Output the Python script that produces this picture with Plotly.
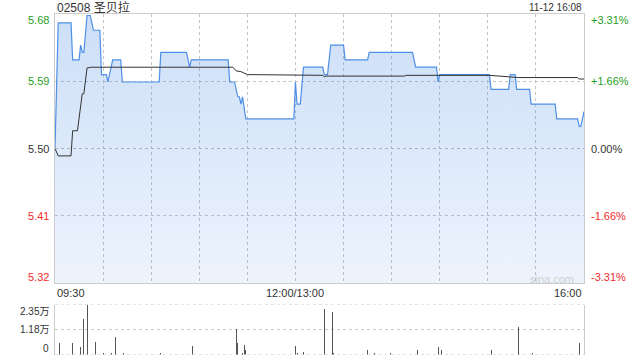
import plotly.graph_objects as go

# ---------------- data ----------------
prev_close = 5.50
price_min = [0, 2, 10, 11, 15, 16, 17, 18, 20, 22, 24, 28, 29, 32, 33, 34, 36, 41, 42, 65, 66,
             82, 84, 85, 108, 109, 112, 114, 115, 116, 117, 119, 149, 150, 151, 153, 155, 167,
             168, 170, 172, 180, 181, 195, 196, 223, 225, 238, 239, 240, 271, 272, 283, 284,
             287, 288, 296, 297, 312, 313, 326, 327, 328, 330]
price_val = [5.50, 5.67, 5.67, 5.62, 5.62, 5.64, 5.63, 5.63, 5.68, 5.68, 5.66, 5.66, 5.60, 5.60,
             5.59, 5.60, 5.62, 5.62, 5.59, 5.59, 5.63, 5.63, 5.61, 5.62, 5.62, 5.59, 5.59, 5.57,
             5.57, 5.56, 5.57, 5.54, 5.54, 5.59, 5.56, 5.56, 5.61, 5.61, 5.60, 5.60, 5.64, 5.64,
             5.62, 5.62, 5.63, 5.63, 5.61, 5.61, 5.59, 5.60, 5.60, 5.58, 5.58, 5.60, 5.60, 5.58,
             5.58, 5.56, 5.56, 5.54, 5.54, 5.53, 5.53, 5.55]

avg_min = [0, 2, 10, 11, 14, 17, 18, 20, 23, 111, 113, 116, 120, 150, 151, 167, 168, 169, 218,
           219, 271, 288, 289, 326, 327, 330]
avg_val = [5.500, 5.490, 5.490, 5.524, 5.524, 5.574, 5.574, 5.609, 5.610, 5.610, 5.605, 5.604,
           5.600, 5.600, 5.599, 5.599, 5.597, 5.598, 5.598, 5.599, 5.599, 5.597, 5.596, 5.596,
           5.594, 5.594]

vol_min = [3, 11, 16, 18, 20, 25, 30, 35, 38, 43, 66, 86, 113, 114, 117, 118, 119, 150, 151,
           155, 168, 173, 174, 195, 199, 209, 226, 239, 241, 272, 289, 298, 327]
vol_val = [5600, 5200, 3300, 16500, 23500, 6100, 900, 900, 8000, 700, 700, 4000, 12200, 5600,
           900, 4700, 2300, 4200, 900, 1400, 21600, 20200, 900, 1900, 900, 900, 1900, 3300,
           1900, 1900, 12700, 900, 5600]

price_ticks = [5.682, 5.591, 5.500, 5.409, 5.318]
price_labels = ["5.68", "5.59", "5.50", "5.41", "5.32"]
pct_labels = ["+3.31%", "+1.66%", "0.00%", "-1.66%", "-3.31%"]
tick_colors = ["#1f9e1f", "#1f9e1f", "#333333", "#ee2b2b", "#ee2b2b"]
label_shift = [-6, 0, 0, 0, 6]

vol_ticks = [23500, 11750, 0]
vol_labels = ["2.35万", "1.18万", "0"]
vol_shift = [-7, 0, 6]

time_ticks = [0, 150, 330]
time_labels = ["09:30", "12:00/13:00", "16:00"]
time_anchor = ["left", "center", "right"]

title_text = "02508 圣贝拉"
stamp_text = "11-12 16:08"

# ---------------- layout geometry ----------------
W, H = 640, 360
XL, XR = 55 / W, 584 / W
MAIN = [1 - 283 / H, 1 - 14 / H]
VOL = [1 - 354.5 / H, 1 - 304.5 / H]
FONT = "Arial, Liberation Sans, Noto Sans CJK SC, sans-serif"

fig = go.Figure()

fig.add_trace(go.Scatter(
    x=price_min, y=price_val, mode="lines",
    line=dict(color="#4f8fe6", width=1.2),
    fill="tozeroy",
    fillgradient=dict(type="vertical", start=5.318, stop=5.682,
                      colorscale=[[0, "rgba(79,143,230,0.10)"], [1, "rgba(79,143,230,0.29)"]]),
    hoverinfo="skip", xaxis="x", yaxis="y"))

fig.add_trace(go.Scatter(
    x=avg_min, y=avg_val, mode="lines",
    line=dict(color="#333333", width=1),
    hoverinfo="skip", xaxis="x", yaxis="y"))

fig.add_trace(go.Bar(
    x=vol_min, y=vol_val, width=0.62,
    marker=dict(color="#555555", line=dict(width=0)),
    hoverinfo="skip", xaxis="x2", yaxis="y2"))

fig.update_layout(
    width=W, height=H, margin=dict(l=0, r=0, t=0, b=0),
    paper_bgcolor="white", plot_bgcolor="white",
    showlegend=False, font=dict(family=FONT, size=11, color="#333"),
    xaxis=dict(domain=[XL, XR], range=[0, 330], tickvals=list(range(30, 330, 30)),
               showgrid=True, gridcolor="#c4c4c4", griddash="dot", gridwidth=1,
               showticklabels=False, ticks="", zeroline=False,
               showline=True, mirror=True, linecolor="#cccccc", linewidth=1),
    yaxis=dict(domain=MAIN, range=[5.318, 5.682], tickvals=[5.409, 5.591],
               showgrid=True, gridcolor="#c4c4c4", griddash="dot", gridwidth=1,
               showticklabels=False, ticks="", zeroline=False,
               showline=True, mirror=True, linecolor="#cccccc", linewidth=1),
    xaxis2=dict(domain=[XL, XR], range=[0, 330], anchor="y2", showgrid=False,
                showticklabels=False, ticks="", zeroline=False, showline=False),
    yaxis2=dict(domain=VOL, range=[0, 23500], anchor="x2", showgrid=False,
                showticklabels=False, ticks="", zeroline=False,
                showline=True, mirror=True, linecolor="#cccccc", linewidth=1),
    bargap=0,
)

shapes = [dict(type="line", xref="x domain", yref="y", x0=0, x1=1, y0=prev_close, y1=prev_close,
               line=dict(color="#b0b0b0", width=1, dash="3px,3px"), layer="above")]
for v in vol_ticks:
    shapes.append(dict(type="line", xref="x2 domain", yref="y2", x0=0, x1=1, y0=v, y1=v,
                       line=dict(color="#c8c8c8", width=1, dash="dot"), layer="below"))
fig.update_layout(shapes=shapes)

ann = []
for v, lab, pct, col, sh in zip(price_ticks, price_labels, pct_labels, tick_colors, label_shift):
    ann.append(dict(xref="paper", yref="y", x=51 / W, y=v, text=lab, showarrow=False,
                    xanchor="right", yanchor="middle", yshift=sh,
                    font=dict(size=11, color=col, family=FONT)))
    ann.append(dict(xref="paper", yref="y", x=589 / W, y=v, text=pct, showarrow=False,
                    xanchor="left", yanchor="middle", yshift=sh,
                    font=dict(size=11, color=col, family=FONT)))
for v, lab, sh in zip(vol_ticks, vol_labels, vol_shift):
    ann.append(dict(xref="paper", yref="y2", x=51 / W, y=v, text=lab, showarrow=False,
                    xanchor="right", yanchor="middle", yshift=sh,
                    font=dict(size=10, color="#333", family=FONT)))
for v, lab, anc in zip(time_ticks, time_labels, time_anchor):
    ann.append(dict(xref="x", yref="paper", x=v, y=1 - 293 / H, text=lab, showarrow=False,
                    xanchor=anc, yanchor="middle",
                    font=dict(size=11, color="#333", family=FONT)))
ann.append(dict(xref="paper", yref="paper", x=55 / W, y=1 - 7.5 / H, text=title_text,
                showarrow=False, xanchor="left", yanchor="middle",
                font=dict(size=12, color="#333", family=FONT)))
ann.append(dict(xref="paper", yref="paper", x=584 / W, y=1 - 7.5 / H, text=stamp_text,
                showarrow=False, xanchor="right", yanchor="middle",
                font=dict(size=10, color="#333", family=FONT)))
ann.append(dict(xref="paper", yref="paper", x=552 / W, y=1 - 279 / H, text="sina.com",
                showarrow=False, xanchor="center", yanchor="middle",
                font=dict(size=11, color="#cfcfcf", family=FONT)))
fig.update_layout(annotations=ann)

fig.write_html("out.html", config={"displayModeBar": False, "staticPlot": True})
